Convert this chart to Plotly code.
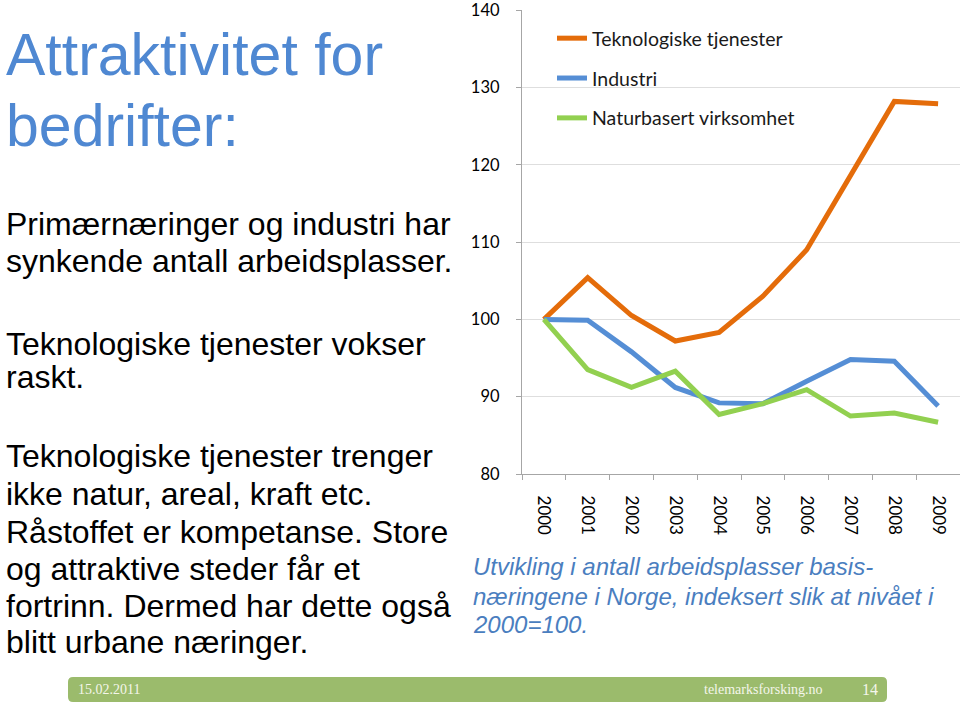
import plotly.graph_objects as go

years = ["2000", "2001", "2002", "2003", "2004", "2005", "2006", "2007", "2008", "2009"]
tek = [100, 105.4, 100.5, 97.2, 98.3, 103.0, 109.0, 118.7, 128.2, 127.9]
industri = [100, 99.9, 95.8, 91.2, 89.2, 89.1, 92.0, 94.8, 94.6, 88.8]
natur = [100, 93.5, 91.2, 93.3, 87.7, 89.1, 90.9, 87.5, 87.9, 86.7]
series_names = ["Teknologiske tjenester", "Industri", "Naturbasert virksomhet"]
y_ticks = [80, 90, 100, 110, 120, 130, 140]

W, H = 960, 705
L, R, T, B = 522, 0, 10, 231
PW, PH = W - L - R, H - T - B


def px(x):
    return (x - L) / PW


def py(y):
    return (H - B - y) / PH


fig = go.Figure()
colors = ["#E46C0A", "#558ED5", "#92D050"]
for name, vals, col in zip(series_names, [tek, industri, natur], colors):
    fig.add_trace(go.Scatter(x=years, y=vals, mode="lines", name=name,
                             legendgroup=name,
                             line=dict(color=col, width=5)))

annotations = []
# Title
for text, base in [("Attraktivitet for", 76), ("bedrifter:", 147)]:
    fs = 59
    annotations.append(dict(text=text, x=px(4), y=py(base - 0.35 * fs), xref="paper", yref="paper",
                            xanchor="left", yanchor="middle", showarrow=False,
                            font=dict(family="Liberation Sans, Arial", size=fs, color="#4F88D2")))
body = [("Primærnæringer og industri har", 235), ("synkende antall arbeidsplasser.", 272),
        ("Teknologiske tjenester vokser", 355), ("raskt.", 388),
        ("Teknologiske tjenester trenger", 467), ("ikke natur, areal, kraft etc.", 505),
        ("Råstoffet er kompetanse. Store", 543), ("og attraktive steder får et", 580),
        ("fortrinn. Dermed har dette også", 617), ("blitt urbane næringer.", 653)]
for text, base in body:
    fs = 32
    annotations.append(dict(text=text, x=px(4), y=py(base - 0.35 * fs), xref="paper", yref="paper",
                            xanchor="left", yanchor="middle", showarrow=False,
                            font=dict(family="Liberation Sans, Arial", size=fs, color="#000000")))
caption = [("<i>Utvikling i antall arbeidsplasser basis-</i>", 575),
           ("<i>næringene i Norge, indeksert slik at nivået i</i>", 605),
           ("<i>2000=100.</i>", 633)]
for text, base in caption:
    fs = 24
    annotations.append(dict(text=text, x=px(471), y=py(base - 0.35 * fs), xref="paper", yref="paper",
                            xanchor="left", yanchor="middle", showarrow=False,
                            font=dict(family="Liberation Sans, Arial", size=fs, color="#4A7EBF")))
# Footer texts
for text, x0, anchor, fs in [("15.02.2011", 76, "left", 14), ("telemarksforsking.no", 702, "left", 14),
                             ("14", 870, "center", 16)]:
    annotations.append(dict(text=text, x=px(x0), y=py(689.5), xref="paper", yref="paper",
                            xanchor=anchor, yanchor="middle", showarrow=False,
                            font=dict(family="Liberation Serif, Times New Roman", size=fs, color="#F4F6EA")))

# footer bar with rounded corners
x0, x1, y0, y1, r = 68, 887, 677, 702, 5
path = (f"M {px(x0 + r)},{py(y0)} L {px(x1 - r)},{py(y0)} Q {px(x1)},{py(y0)} {px(x1)},{py(y0 + r)} "
        f"L {px(x1)},{py(y1 - r)} Q {px(x1)},{py(y1)} {px(x1 - r)},{py(y1)} "
        f"L {px(x0 + r)},{py(y1)} Q {px(x0)},{py(y1)} {px(x0)},{py(y1 - r)} "
        f"L {px(x0)},{py(y0 + r)} Q {px(x0)},{py(y0)} {px(x0 + r)},{py(y0)} Z")
shapes = [dict(type="path", path=path, xref="paper", yref="paper",
               fillcolor="#9BBB6C", line=dict(width=0), layer="below")]

fig.update_layout(
    width=W, height=H,
    margin=dict(l=L, r=R, t=T, b=B, autoexpand=False),
    paper_bgcolor="white", plot_bgcolor="white",
    font=dict(family="Lato, Open Sans, sans-serif", size=17, color="#000000"),
    showlegend=True,
    legend=dict(x=px(552), y=py(19), xanchor="left", yanchor="top",
                bgcolor="rgba(0,0,0,0)", font=dict(size=19.5, color="#1a1a1a"),
                tracegroupgap=11.5, itemwidth=30),
    annotations=annotations,
    shapes=shapes,
    xaxis=dict(type="category", tickson="boundaries", ticks="outside", ticklen=5,
               tickcolor="#A6A6A6", showline=True, linecolor="#A6A6A6", linewidth=1.3,
               showgrid=False, tickangle=90, ticklabelstandoff=17, automargin=False,
               tickfont=dict(size=17, color="#000000"), range=[-0.5, 9.5]),
    yaxis=dict(range=[80, 140.02], tickvals=y_ticks, ticks="outside", ticklen=5,
               tickcolor="#A6A6A6", showline=True, linecolor="#A6A6A6", linewidth=1.3,
               showgrid=True, gridcolor="#DEDEDE", gridwidth=1, zeroline=False, automargin=False,
               ticklabeloverflow="allow", ticklabelstandoff=13,
               tickfont=dict(size=16.5, color="#000000")),
)

fig.write_html("out.html", config={"displayModeBar": False},
               post_script="document.body.style.margin='0';document.body.style.overflow='hidden';")
